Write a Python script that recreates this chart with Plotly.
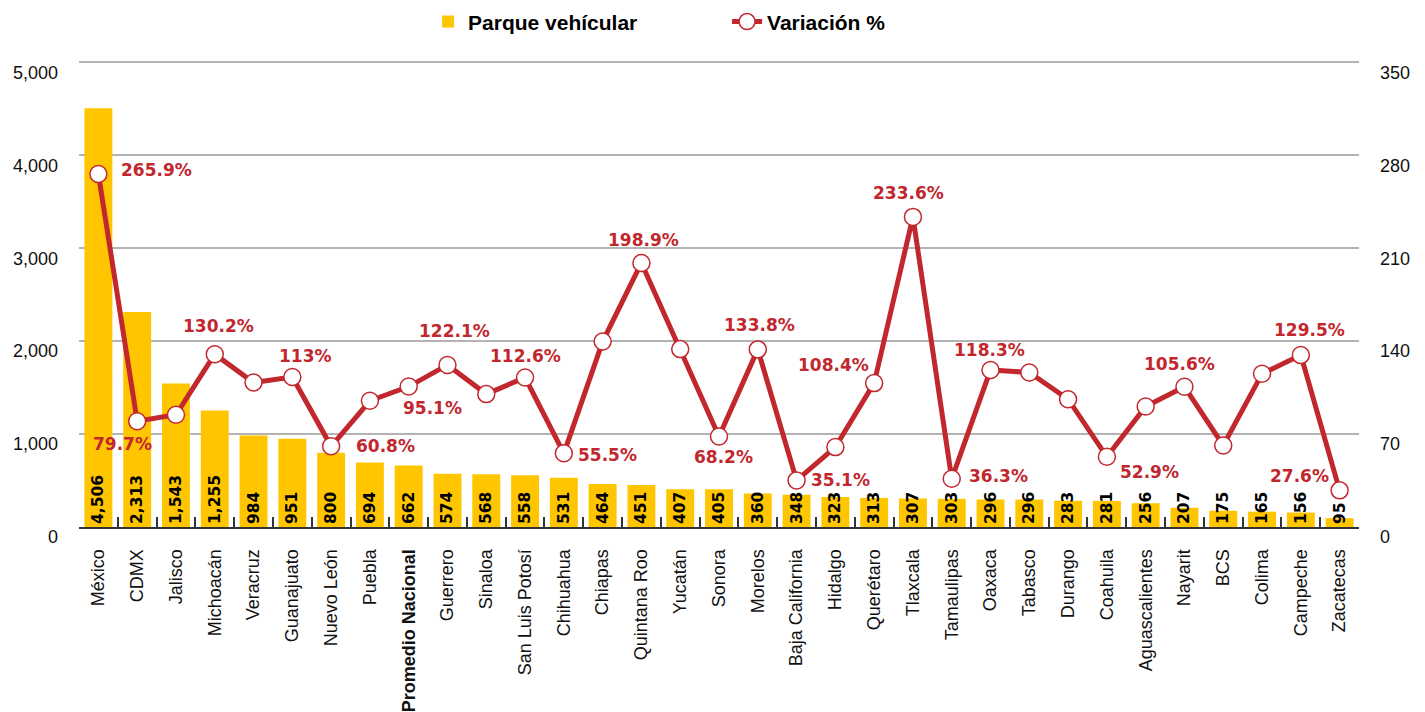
import plotly.graph_objects as go

categories = ["México", "CDMX", "Jalisco", "Michoacán", "Veracruz", "Guanajuato", "Nuevo León",
              "Puebla", "Promedio Nacional", "Guerrero", "Sinaloa", "San Luis Potosí", "Chihuahua",
              "Chiapas", "Quintana Roo", "Yucatán", "Sonora", "Morelos", "Baja California", "Hidalgo",
              "Querétaro", "Tlaxcala", "Tamaulipas", "Oaxaca", "Tabasco", "Durango", "Coahuila",
              "Aguascalientes", "Nayarit", "BCS", "Colima", "Campeche", "Zacatecas"]

parque = [4506, 2313, 1543, 1255, 984, 951, 800, 694, 662, 574, 568, 558, 531, 464, 451, 407,
          405, 360, 348, 323, 313, 307, 303, 296, 296, 283, 281, 256, 207, 175, 165, 156, 95]

variacion = [265.9, 79.7, 84.5, 130.2, 108.8, 113, 60.8, 95.1, 105.8, 122.1, 100.1, 112.6, 55.5,
             139.7, 198.9, 134.0, 68.2, 133.8, 35.1, 60.2, 108.4, 233.6, 36.3, 118.3, 116.4, 96.3,
             52.9, 90.8, 105.6, 61.4, 115.4, 129.5, 27.6]

left_ticks = [0, 1000, 2000, 3000, 4000, 5000]
right_ticks = [0, 70, 140, 210, 280, 350]

# label placement (pixel offsets from the marker) for the points that carry a % label
label_offsets = {
    "México": (58, 4), "CDMX": (-15, -23), "Michoacán": (4, 28), "Guanajuato": (13, 21),
    "Nuevo León": (54, 0), "Puebla": (63, -7), "Guerrero": (7, 34), "San Luis Potosí": (0, 22),
    "Chihuahua": (44, -2), "Quintana Roo": (2, 23), "Sonora": (4, -21), "Morelos": (2, 24),
    "Baja California": (44, 0), "Querétaro": (-41, 18), "Tlaxcala": (-4, 24),
    "Tamaulipas": (47, 3), "Oaxaca": (-1, 20), "Coahuila": (43, -15), "Nayarit": (-5, 23),
    "Campeche": (9, 25), "Zacatecas": (-40, 14),
}

YELLOW = "#FFC600"
RED = "#C1272D"
GRID = "#b3b3b3"


def fmt_pct(v):
    s = f"{v:.1f}"
    if s.endswith(".0"):
        s = s[:-2]
    return s + "%"


ticktext = [f"<b>{c}</b>" if c == "Promedio Nacional" else c for c in categories]

fig = go.Figure()
fig.add_trace(go.Bar(
    x=categories, y=parque, name="Parque vehícular",
    marker=dict(color=YELLOW, line=dict(width=0)),
    width=0.72,
    text=[f"{v:,}" for v in parque],
    textposition="inside", insidetextanchor="start", textangle=-90,
    constraintext="none", cliponaxis=False,
    insidetextfont=dict(family="DejaVu Sans", size=15.5, color="#000000", weight="bold"),
    hoverinfo="skip",
))
fig.add_trace(go.Scatter(
    x=categories, y=variacion, name="Variación %", yaxis="y2",
    mode="lines+markers",
    line=dict(color=RED, width=5),
    marker=dict(size=17, color="white", line=dict(color=RED, width=1.5)),
    cliponaxis=False,
    hoverinfo="skip",
))

annotations = []
for c, v in zip(categories, variacion):
    if c in label_offsets:
        dx, dy = label_offsets[c]
        annotations.append(dict(
            x=c, y=v, xref="x", yref="y2", text=fmt_pct(v), showarrow=False,
            xshift=dx, yshift=dy,
            font=dict(family="DejaVu Sans", size=17, color=RED, weight="bold"),
        ))

fig.update_layout(
    width=1425, height=712,
    margin=dict(l=71, r=74, t=53, b=193, autoexpand=False),
    paper_bgcolor="white", plot_bgcolor="white",
    showlegend=True,
    legend=dict(
        orientation="h", x=0.2727, xanchor="left", y=1.084, yanchor="middle",
        font=dict(family="Liberation Sans", size=21, color="#000000", weight="bold"),
        entrywidth=254, bgcolor="rgba(0,0,0,0)",
    ),
    annotations=annotations,
    xaxis=dict(
        type="category", tickmode="array", tickvals=categories, ticktext=ticktext,
        tickangle=-90, tickfont=dict(family="Liberation Sans", size=18, color="#111111"),
        showgrid=False, showline=True, linecolor="#333333", linewidth=2,
        ticks="inside", tickson="boundaries", ticklen=10, tickwidth=1.5, tickcolor="#333333",
        ticklabelstandoff=13, range=[-0.5, len(categories) - 0.5], zeroline=False,
        automargin=False,
    ),
    yaxis=dict(
        range=[0, 5015], tickvals=left_ticks, ticktext=[f"{t:,}" for t in left_ticks],
        tickfont=dict(family="Liberation Sans", size=18, color="#111111"),
        showgrid=True, gridcolor=GRID, gridwidth=1.5, zeroline=False,
        showline=False, ticks="", ticklabelstandoff=20, ticklabelshift=10,
        automargin=False,
    ),
    yaxis2=dict(
        range=[0, 351.05], tickvals=right_ticks, overlaying="y", side="right",
        tickfont=dict(family="Liberation Sans", size=18, color="#111111"),
        showgrid=False, zeroline=False, showline=False, ticks="",
        ticklabelstandoff=20, ticklabelshift=10, automargin=False,
    ),
)

fig.write_html("out.html")
